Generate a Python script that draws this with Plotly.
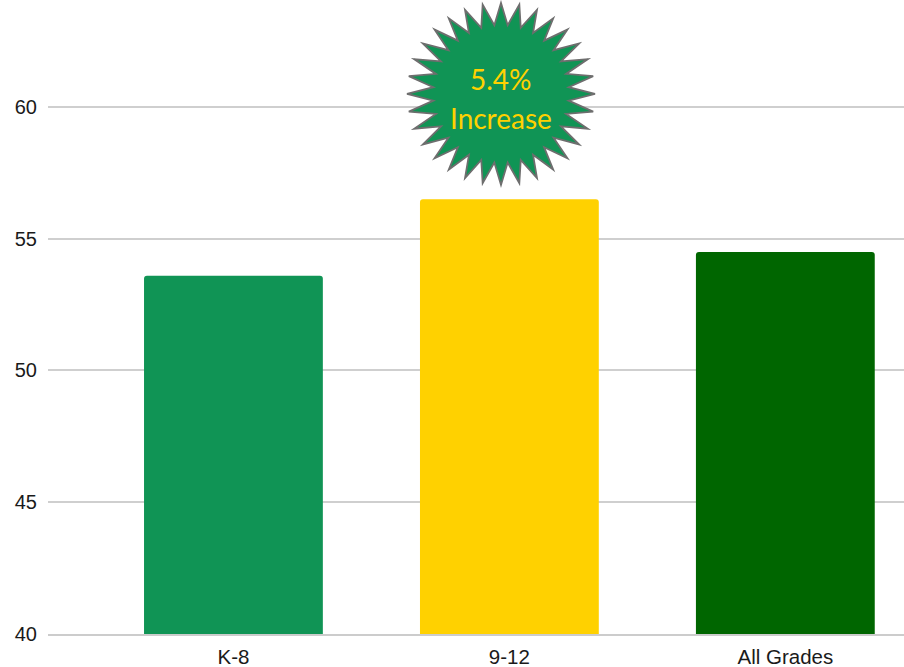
import math
import plotly.graph_objects as go

# Average scores by grade band
grades = ["K-8", "9-12", "All Grades"]
scores = [53.6, 56.5, 54.5]
bar_colors = ["#109455", "#FFD100", "#006600"]
y_ticks = [40, 45, 50, 55, 60]
callout_lines = ["5.4%", "Increase"]


def burst_path(points, rx_out, ry_out, rx_in, ry_in):
    """SVG path (pixels around an anchor) for a many-pointed burst badge."""
    parts = []
    for i in range(points * 2):
        angle = math.pi * i / points
        rx, ry = (rx_out, ry_out) if i % 2 == 0 else (rx_in, ry_in)
        x = rx * math.sin(angle)
        y = ry * math.cos(angle)
        parts.append(("M" if i == 0 else "L") + f"{x:.2f},{y:.2f}")
    return " ".join(parts) + " Z"


fig = go.Figure(
    go.Bar(
        x=grades,
        y=scores,
        marker=dict(color=bar_colors, line=dict(width=0), cornerradius=3),
        width=0.648,
        hoverinfo="x+y",
    )
)

fig.update_layout(
    width=904,
    height=667,
    margin=dict(l=48, r=0, t=0, b=32.5),
    paper_bgcolor="white",
    plot_bgcolor="white",
    showlegend=False,
    font=dict(family="Liberation Sans, Arial, sans-serif", size=20, color="#1a1a1a"),
)

fig.update_xaxes(
    type="category",
    automargin=False,
    range=[-0.672, 2.43],
    showgrid=False,
    zeroline=False,
    showline=True,
    linecolor="#CCCCCC",
    linewidth=1.5,
    ticks="",
    ticklabelstandoff=4,
    tickfont=dict(size=20.5),
)
fig.update_yaxes(
    automargin=False,
    range=[40, 64.06],
    tickvals=y_ticks,
    showgrid=True,
    gridcolor="#CFCFCF",
    gridwidth=1.5,
    zeroline=False,
    showline=False,
    ticks="",
    ticklabelstandoff=10,
)

# Badge above the tallest bar
fig.add_shape(
    type="path",
    xref="x domain",
    yref="paper",
    xsizemode="pixel",
    ysizemode="pixel",
    xanchor=(501 - 48) / 856,
    yanchor=1 - 94 / 634.5,
    path=burst_path(32, 94, 91, 68, 69),
    fillcolor="#109455",
    line=dict(color="#6E6E6E", width=1.8),
    layer="above",
)

for line, y_px in zip(callout_lines, [79, 118]):
    fig.add_annotation(
        text=line,
        xref="x domain",
        yref="paper",
        x=(501 - 48) / 856,
        y=1 - y_px / 634.5,
        xanchor="center",
        yanchor="middle",
        showarrow=False,
        font=dict(family="Lato, sans-serif", size=28, color="#FFD100", weight=400),
    )

fig.write_html("out.html")
